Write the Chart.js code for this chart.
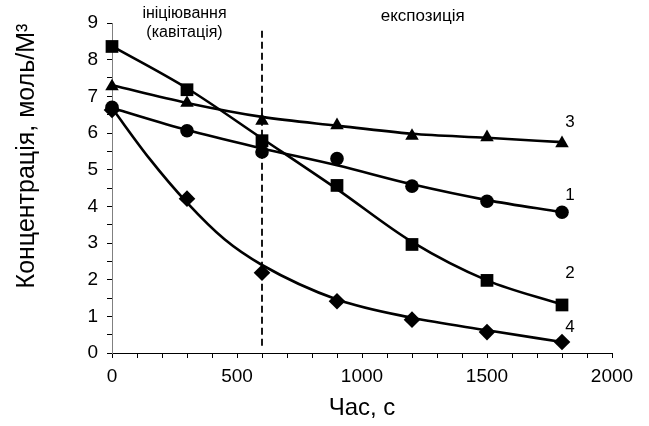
<!DOCTYPE html>
<html>
<head>
<meta charset="utf-8">
<script src="https://cdn.jsdelivr.net/npm/chart.js@4/dist/chart.umd.min.js"></script>
<style>
  html, body { margin: 0; padding: 0; background: #fff; }
  #wrap { width: 649px; height: 426px; }
</style>
</head>
<body>
<div id="wrap"><canvas id="c" width="649" height="426"></canvas></div>
<script>
// Sampling times, s
const times = [0, 300, 600, 900, 1200, 1500, 1800];

// Measured concentrations, mol/m3
const series1 = [6.70, 6.06, 5.48, 5.30, 4.55, 4.14, 3.84];
const series2 = [8.36, 7.18, 5.79, 4.57, 2.96, 1.98, 1.31];
const series3 = [7.27, 6.82, 6.33, 6.21, 5.92, 5.88, 5.72];
const series4 = [6.63, 4.21, 2.19, 1.41, 0.91, 0.57, 0.30];

// Smoothed trend curves through the measurements
const trend1 = [6.68, 6.08, 5.58, 5.12, 4.60, 4.17, 3.84];
const trend2 = [8.37, 7.22, 5.85, 4.47, 3.03, 1.98, 1.32];
const trend3 = [7.30, 6.82, 6.44, 6.20, 5.98, 5.87, 5.75];
const trend4Times = [0, 150, 300, 450, 600, 900, 1200, 1500, 1800];
const trend4 = [6.68, 5.30, 4.10, 3.10, 2.40, 1.46, 0.96, 0.62, 0.30];

// Boundary between the initiation and exposure stages
const stageBoundary = 600;
const stageLines = [0.2, 8.85];

// Curve numbers shown at the right end
const curveNames = ['1', '2', '3', '4'];
const curveNameY = [4.31, 2.16, 6.30, 0.69];

const FONT = '"Liberation Sans", Arial, sans-serif';

const pts = (xs, ys) => xs.map((x, i) => ({ x, y: ys[i] }));

function markers(data, style, radius) {
  return {
    data, showLine: false, pointStyle: style, pointRadius: radius,
    pointHoverRadius: radius, pointBackgroundColor: '#000',
    pointBorderColor: '#000', pointBorderWidth: 0, order: 0, clip: false
  };
}
function curve(data) {
  return {
    data, showLine: true, borderColor: '#000', borderWidth: 2.6,
    pointRadius: 0, cubicInterpolationMode: 'monotone', fill: false,
    order: 1, clip: false
  };
}

const annotations = {
  id: 'annotations',
  afterDatasetsDraw(chart) {
    const { ctx, scales: { x, y } } = chart;
    ctx.save();
    ctx.fillStyle = '#000';
    ctx.textAlign = 'center';
    ctx.textBaseline = 'middle';

    ctx.font = '16px ' + FONT;
    ctx.fillText('ініціювання', x.getPixelForValue(290), 14);
    ctx.fillText('(кавітація)', x.getPixelForValue(290), 33);
    ctx.font = '17px ' + FONT;
    ctx.fillText('експозиція', x.getPixelForValue(1243), 16);

    curveNames.forEach((n, i) => {
      ctx.fillText(n, x.getPixelForValue(1832), y.getPixelForValue(curveNameY[i]));
    });

    ctx.font = '24px ' + FONT;
    ctx.fillText('Час, с', (x.left + x.right) / 2, 408);

    ctx.font = '25px ' + FONT;
    ctx.translate(27, 156);
    ctx.rotate(-Math.PI / 2);
    ctx.fillText('Концентрація, моль/М³', 0, 0);
    ctx.restore();
  }
};

new Chart(document.getElementById('c'), {
  type: 'scatter',
  data: {
    datasets: [
      markers(pts(times, series1), 'circle', 6.8),
      markers(pts(times, series2), 'rect', 9),
      markers(pts(times, series3), 'triangle', 7.8),
      markers(pts(times, series4), 'rectRot', 8.3),
      curve(pts(times, trend1)),
      curve(pts(times, trend2)),
      curve(pts(times, trend3)),
      curve(pts(trend4Times, trend4)),
      {
        data: stageLines.map(v => ({ x: stageBoundary, y: v })),
        showLine: true, borderColor: '#000', borderWidth: 1.8,
        borderDash: [7, 4], pointRadius: 0, order: 2, clip: false
      }
    ]
  },
  options: {
    responsive: false,
    animation: false,
    events: [],
    layout: { padding: { top: 23, right: 37, left: 0, bottom: 0 } },
    plugins: { legend: { display: false }, tooltip: { enabled: false } },
    scales: {
      x: {
        type: 'linear', min: 0, max: 2000,
        afterFit(s) { s.height = 73; },
        border: { color: '#000', width: 1 },
        grid: { drawOnChartArea: false, tickLength: 5, color: '#000' },
        ticks: {
          stepSize: 100, autoSkip: false, maxRotation: 0, padding: 7,
          color: '#000', font: { family: FONT, size: 19 },
          callback: v => (v % 500 === 0 ? String(v) : '')
        }
      },
      y: {
        min: 0, max: 9,
        afterFit(s) { s.width = 112; },
        border: { color: '#808080', width: 1 },
        grid: { drawOnChartArea: false, tickLength: 5, color: '#000' },
        ticks: {
          stepSize: 0.5, autoSkip: false, padding: 9,
          color: '#000', font: { family: FONT, size: 19 },
          callback: v => (Number.isInteger(v) ? String(v) : '')
        }
      }
    }
  },
  plugins: [annotations]
});
</script>
</body>
</html>
